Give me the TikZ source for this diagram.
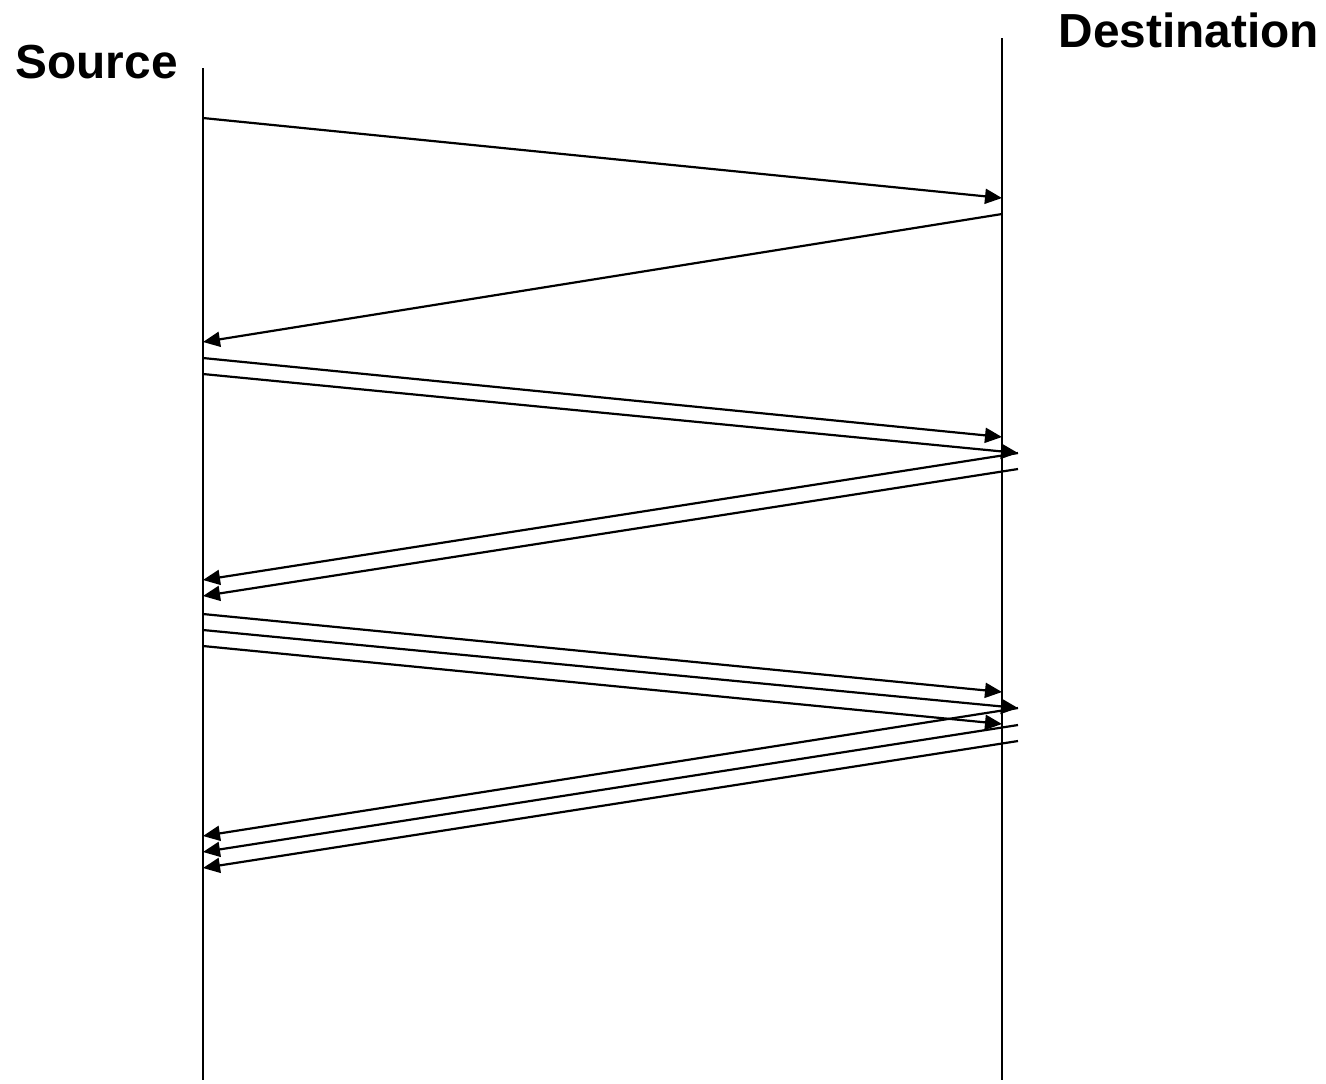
\documentclass[tikz,border=0pt]{standalone}
\usepackage{fontspec}
\setmainfont{Liberation Sans}
\usetikzlibrary{arrows.meta}
\begin{document}
\begin{tikzpicture}[x=0.1mm,y=-0.1mm,
  lifeline/.style={line width=0.22mm},
  msg/.style={line width=0.22mm,-{Triangle[length=1.7mm,width=1.5mm]}},
  lbl/.style={font=\fontsize{13.6}{16}\selectfont\bfseries,inner sep=0pt,anchor=base west}]
\useasboundingbox (0,0) rectangle (1326,1083);
% labels
\node[lbl] (src) at (15,78) {Source};
\node[lbl] (dst) at (1058,47) {Destination};
% lifelines
\coordinate (sT) at (203,68); \coordinate (sB) at (203,1080);
\coordinate (dT) at (1002,38); \coordinate (dB) at (1002,1080);
\draw[lifeline] (sT) -- (sB);
\draw[lifeline] (dT) -- (dB);
% round 1
\coordinate (a1) at (203,118); \coordinate (b1) at (1002,198);
\draw[msg] (a1) -- (b1);
\coordinate (b2) at (1002,214); \coordinate (a2) at (203,342);
\draw[msg] (b2) -- (a2);
% round 2
\coordinate (a3) at (203,358); \coordinate (b3) at (1002,437);
\coordinate (a4) at (203,374); \coordinate (b4) at (1018,453);
\draw[msg] (a3) -- (b3);
\draw[msg] (a4) -- (b4);
\coordinate (b5) at (1018,469);
\coordinate (a5) at (203,580); \coordinate (a6) at (203,596);
\draw[msg] (b4) -- (a5);
\draw[msg] (b5) -- (a6);
% round 3
\coordinate (a7) at (203,614); \coordinate (b7) at (1002,692);
\coordinate (a8) at (203,630); \coordinate (b8) at (1018,708);
\coordinate (a9) at (203,646); \coordinate (b9) at (1002,724);
\draw[msg] (a7) -- (b7);
\draw[msg] (a8) -- (b8);
\draw[msg] (a9) -- (b9);
\coordinate (b10) at (1018,725); \coordinate (b11) at (1018,741);
\coordinate (a10) at (203,836); \coordinate (a11) at (203,852); \coordinate (a12) at (203,868);
\draw[msg] (b8) -- (a10);
\draw[msg] (b10) -- (a11);
\draw[msg] (b11) -- (a12);
\end{tikzpicture}
\end{document}
